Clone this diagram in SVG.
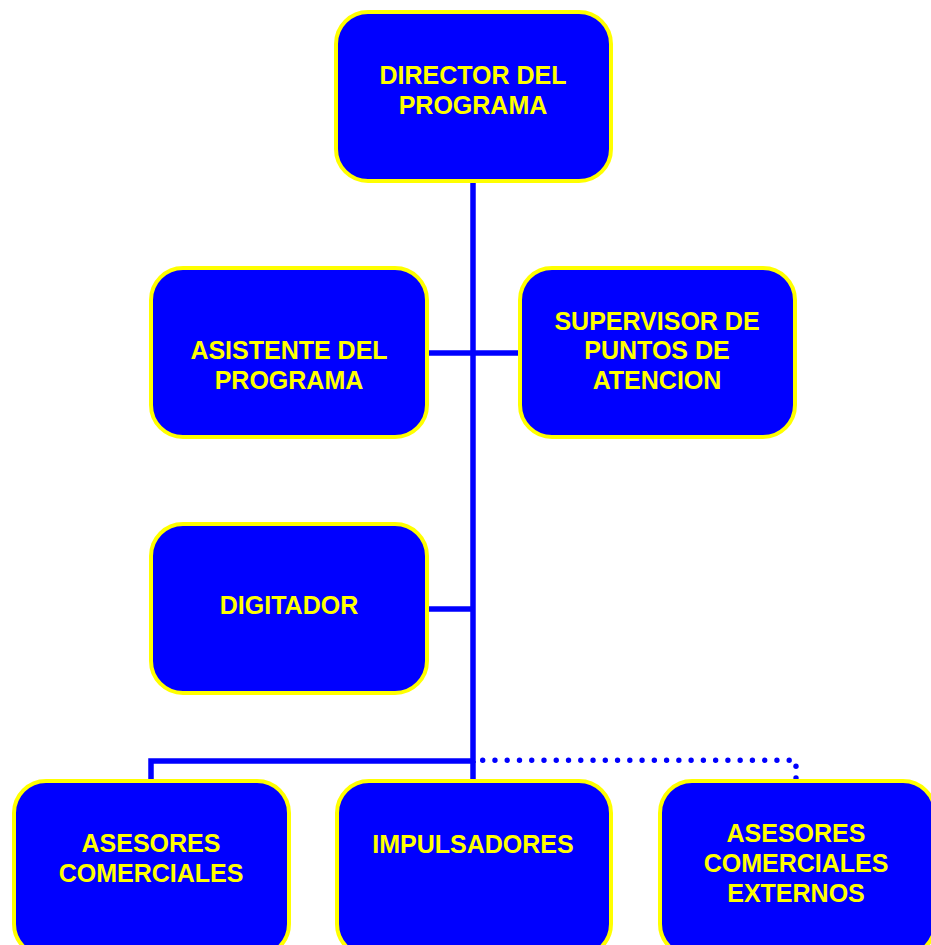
<svg xmlns="http://www.w3.org/2000/svg" width="931" height="945" viewBox="0 0 931 945">
<style>
.box{fill:#0000FF;stroke:#FFFF00;stroke-width:4}
.t{fill:#FFFF00;font-family:"Liberation Sans",Arial,sans-serif;font-weight:bold;font-size:25px;text-anchor:middle}
.c{stroke:#0000FF;stroke-width:5.5;fill:none}
.d{stroke:#0000FF;stroke-width:5.4;fill:none;stroke-linecap:round;stroke-dasharray:0 12.26}
.dot{fill:#0000FF}
</style>
<rect width="931" height="945" fill="#FFFFFF"/>
<g id="connectors">
<line class="c" x1="473" y1="182" x2="473" y2="763"/>
<line class="c" x1="428" y1="353" x2="519" y2="353"/>
<line class="c" x1="428" y1="609" x2="473" y2="609"/>
<polyline class="c" points="151,780 151,761 473,761"/>
<line class="c" x1="473" y1="761" x2="473" y2="780"/>
<path class="d" d="M482.7 760.3 H789.3"/>
<circle class="dot" cx="796" cy="766.3" r="2.7"/>
<circle class="dot" cx="796" cy="778" r="2.7"/>
</g>
<g id="director"><rect class="box" x="336" y="12" width="275" height="169" rx="32"/>
<text class="t" x="473" y="84">DIRECTOR DEL</text><text class="t" x="473" y="114">PROGRAMA</text></g>
<g id="asistente"><rect class="box" x="151" y="268" width="276" height="169" rx="32"/>
<text class="t" x="289" y="359">ASISTENTE DEL</text><text class="t" x="289" y="389">PROGRAMA</text></g>
<g id="supervisor"><rect class="box" x="520" y="268" width="275" height="169" rx="32"/>
<text class="t" x="657" y="330">SUPERVISOR DE</text><text class="t" x="657" y="359">PUNTOS DE</text><text class="t" x="657" y="389">ATENCION</text></g>
<g id="digitador"><rect class="box" x="151" y="524" width="276" height="169" rx="32"/>
<text class="t" x="289" y="614">DIGITADOR</text></g>
<g id="asesores"><rect class="box" x="14" y="781" width="275" height="175" rx="32"/>
<text class="t" x="151" y="852">ASESORES</text><text class="t" x="151" y="882">COMERCIALES</text></g>
<g id="impulsadores"><rect class="box" x="337" y="781" width="274" height="175" rx="32"/>
<text class="t" x="473" y="853">IMPULSADORES</text></g>
<g id="externos"><rect class="box" x="660" y="781" width="275" height="175" rx="32"/>
<text class="t" x="796" y="842">ASESORES</text><text class="t" x="796" y="872">COMERCIALES</text><text class="t" x="796" y="902">EXTERNOS</text></g>
</svg>
